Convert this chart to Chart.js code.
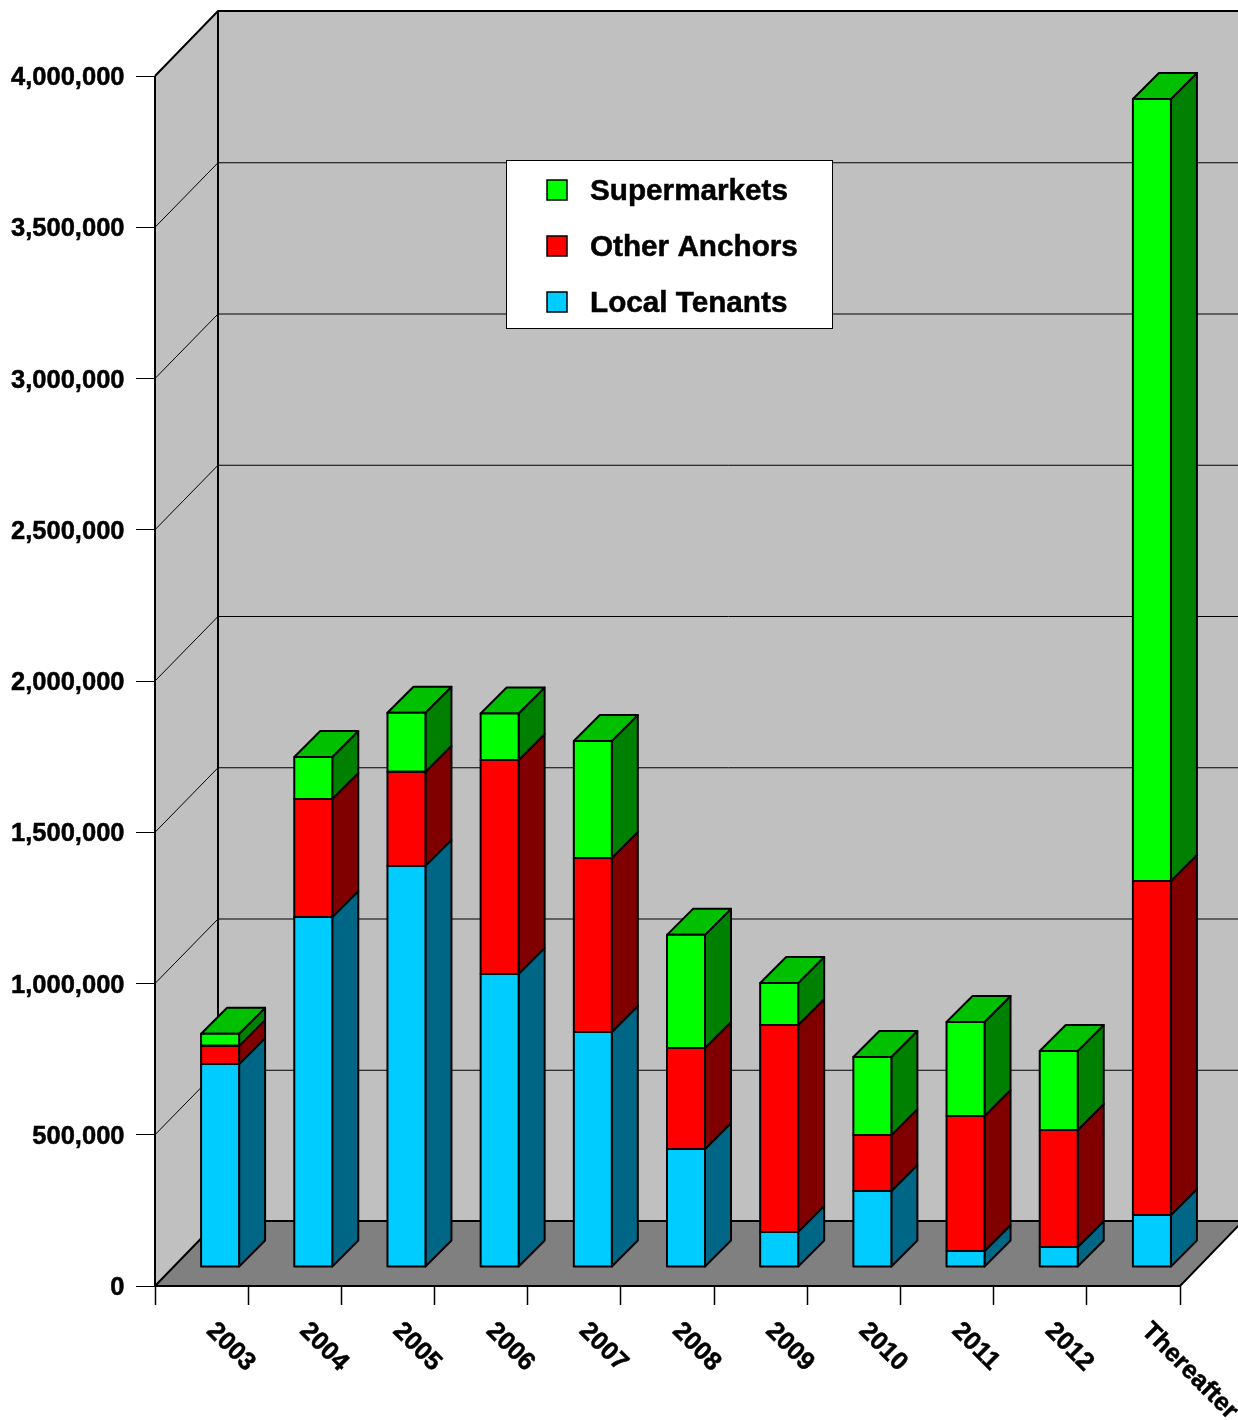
<!DOCTYPE html>
<html><head><meta charset="utf-8">
<style>html,body{margin:0;padding:0;background:#fff}canvas{display:block}</style>
<script src="https://cdn.jsdelivr.net/npm/chart.js@4"></script></head>
<body><canvas id="c" width="1238" height="1420"></canvas>
<script>
const categories = ['2003','2004','2005','2006','2007','2008','2009','2010','2011','2012','Thereafter'];
const localTenants = [671000,1157000,1326000,969000,777000,390000,116000,251000,53000,66000,172000];
const otherAnchors = [60000,390000,311000,707000,575000,334000,684000,185000,446000,387000,1104000];
const supermarkets = [40000,139000,195000,154000,387000,374000,139000,258000,311000,261000,2585000];
const yTicks = [0,500000,1000000,1500000,2000000,2500000,3000000,3500000,4000000];

const FONT = 'bold 25.5px "Liberation Sans", Arial, sans-serif';
const DX = 63, DY = 65;            // wall depth
const BDX = 18.5, BDY = 19;        // bar offset from the front plane
const BD = 26;                     // bar depth
const sideCol = ['#006685','#800000','#008000'];
const topCol = '#00C000';

function poly(ctx, pts, fill, lw){
  ctx.beginPath();
  pts.forEach((p,i)=> i? ctx.lineTo(p[0],p[1]) : ctx.moveTo(p[0],p[1]));
  ctx.closePath();
  if(fill){ctx.fillStyle=fill;ctx.fill();}
  ctx.lineWidth=lw;ctx.strokeStyle='#000';ctx.lineJoin='round';ctx.stroke();
}
function heavyText(ctx,t,x,y){
  ctx.lineWidth=0.5;ctx.strokeStyle='#000';ctx.strokeText(t,x,y);ctx.fillText(t,x,y);
}
const scene = {
  id:'scene',
  beforeDraw(chart){
    const {ctx,chartArea:a,scales:{y}} = chart;
    const L=a.left,R=a.right,T=a.top,B=a.bottom;
    ctx.save();
    ctx.fillStyle='#C0C0C0';
    ctx.fillRect(L+DX,T-DY,R-L,B-T);
    ctx.beginPath();ctx.moveTo(L,T);ctx.lineTo(L+DX,T-DY);ctx.lineTo(L+DX,B-DY);ctx.lineTo(L,B);ctx.closePath();ctx.fill();
    yTicks.forEach(v=>{
      const py=y.getPixelForValue(v);
      const off=v===4000000?0:0.5;
      ctx.beginPath();ctx.moveTo(L,py);ctx.lineTo(L+DX,py-DY+off);ctx.lineTo(R+DX,py-DY+off);
      ctx.lineWidth=v===4000000?2:1;ctx.strokeStyle='#000';ctx.stroke();
    });
    poly(ctx,[[L,B],[L+DX,B-DY],[R+DX,B-DY],[R,B]],'#808080',2);
    ctx.beginPath();ctx.moveTo(L+DX,T-DY);ctx.lineTo(L+DX,B-DY);ctx.moveTo(L,T);ctx.lineTo(L,B);
    ctx.lineWidth=2;ctx.strokeStyle='#000';ctx.stroke();
    ctx.restore();
  },
  beforeDatasetsDraw(chart){
    const {ctx} = chart;
    ctx.save();
    ctx.translate(BDX,-BDY);
    chart.data.datasets.forEach((ds,di)=>{
      chart.getDatasetMeta(di).data.forEach(bar=>{
        const r=bar.x+bar.width/2, t=bar.y, b=bar.base;
        poly(ctx,[[r,b],[r+BD,b-BD],[r+BD,t-BD],[r,t]],sideCol[di],2);
        if(di===chart.data.datasets.length-1){
          const l=bar.x-bar.width/2;
          poly(ctx,[[l,t],[l+BD,t-BD],[r+BD,t-BD],[r,t]],topCol,2);
        }
      });
    });
  },
  afterDatasetsDraw(chart){
    const {ctx,scales:{x,y}} = chart;
    // black outline round every front face
    chart.data.datasets.forEach((ds,di)=>{
      chart.getDatasetMeta(di).data.forEach(bar=>{
        const l=bar.x-bar.width/2;
        ctx.lineWidth=2;ctx.strokeStyle='#000';ctx.lineJoin='round';
        ctx.strokeRect(l,bar.y,bar.width,bar.base-bar.y);
      });
    });
    ctx.restore();
    ctx.save();
    ctx.font=FONT;ctx.fillStyle='#000';
    // value labels
    ctx.textAlign='right';ctx.textBaseline='middle';
    y.ticks.forEach((t,i)=>{
      heavyText(ctx,t.label,124.5,y.getPixelForTick(i)+2);
    });
    // rotated category labels
    ctx.textAlign='left';
    categories.forEach((c,i)=>{
      const shift = c.length>4 ? 12 : 9;
      ctx.save();
      ctx.translate(x.getPixelForValue(i)+shift,1327);
      ctx.rotate(Math.PI/4);
      heavyText(ctx,x.getLabelForValue(i),0,0);
      ctx.restore();
    });
    // legend
    ctx.fillStyle='#fff';ctx.fillRect(506.5,160.5,326,168);
    ctx.strokeStyle='#000';ctx.lineWidth=1;ctx.strokeRect(506.5,160.5,326,168);
    const rows=[...chart.data.datasets].reverse();
    rows.forEach((ds,i)=>{
      const cy=190+i*56;
      ctx.fillStyle=ds.backgroundColor;ctx.fillRect(547,cy-10,20,20);
      ctx.strokeStyle='#000';ctx.lineWidth=1.5;ctx.strokeRect(547,cy-10,20,20);
      ctx.fillStyle='#000';ctx.font='bold 29.7px "Liberation Sans", Arial, sans-serif';
      ctx.textAlign='left';ctx.textBaseline='middle';
      heavyText(ctx,ds.label,590,cy+2);
    });
    ctx.restore();
  }
};
const common = {stack:'s',borderWidth:0,inflateAmount:0,clip:false,categoryPercentage:1,barPercentage:38/93.18};
new Chart(document.getElementById('c'),{
  type:'bar',
  data:{labels:categories,datasets:[
    {label:'Local Tenants',data:localTenants,backgroundColor:'#00CCFF',...common},
    {label:'Other Anchors',data:otherAnchors,backgroundColor:'#FF0000',...common},
    {label:'Supermarkets',data:supermarkets,backgroundColor:'#00FF00',...common}
  ]},
  options:{
    responsive:false,animation:false,devicePixelRatio:1,
    layout:{padding:{top:76,right:58,left:0,bottom:0}},
    plugins:{legend:{display:false},tooltip:{enabled:false}},
    scales:{
      x:{stacked:true,
        grid:{drawOnChartArea:false,tickLength:19,tickColor:'#000',tickWidth:1.5},
        border:{display:false},
        ticks:{display:false,autoSkip:false},
        afterFit(s){s.height=134;}},
      y:{stacked:true,min:0,max:4000000,
        grid:{drawOnChartArea:false,tickLength:19,tickColor:'#000',tickWidth:1},
        border:{display:false},
        ticks:{display:false,stepSize:500000,callback:v=>v.toLocaleString('en-US')},
        afterFit(s){s.width=155;}}
    }
  },
  plugins:[scene]
});
</script></body></html>
